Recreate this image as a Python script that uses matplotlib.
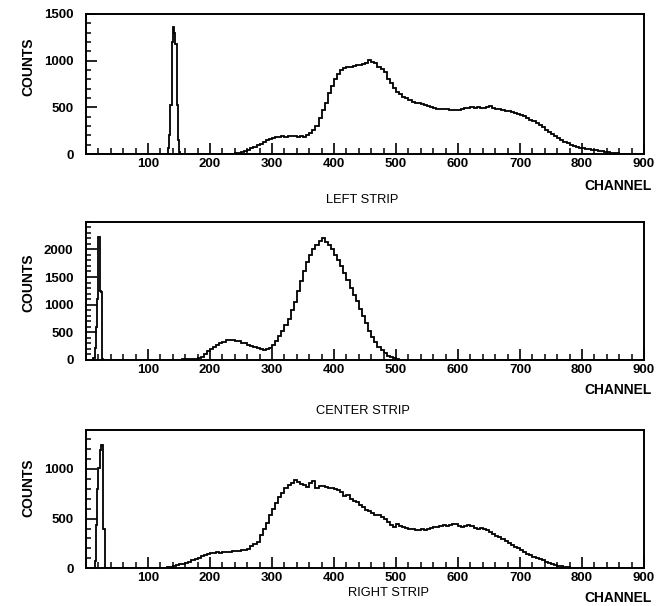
import numpy as np
import matplotlib
matplotlib.use("Agg")
import matplotlib.pyplot as plt
from matplotlib.ticker import MultipleLocator

plt.rcParams['font.family'] = ['Liberation Sans', 'DejaVu Sans']

# ---------------- data (channel bins, counts) ----------------
strip_names = ["LEFT STRIP", "CENTER STRIP", "RIGHT STRIP"]
x_ticks = [100, 200, 300, 400, 500, 600, 700, 800, 900]

# LEFT strip
left_spike_start = 132
left_spike_width = 2
left_spike_counts = [60, 200, 520, 1200, 1360, 1300, 1180, 520, 150, 20]
left_cont_start = 200
left_cont_width = 5
left_cont_counts = [
    5, 5, 5, 5, 5, 5, 5, 5,
    8, 12, 20, 32, 45, 60, 75, 92, 110, 128, 148, 160,
    172, 178, 182, 192, 186, 196, 190, 198, 185, 192,
    178, 200, 228, 262, 300, 390, 470, 545, 650, 730,
    800, 860, 905, 920, 935, 930, 940, 955, 950, 965,
    975, 1010, 985, 975, 935, 915, 880, 800, 760, 710,
    665, 640, 615, 595, 580, 560, 550, 545, 535, 530,
    515, 505, 495, 485, 482, 478, 480, 475, 470, 468,
    472, 480, 488, 495, 508, 490, 505, 495, 488, 500,
    510, 498, 485, 478, 470, 465, 458, 452, 440, 428,
    420, 405, 385, 368, 350, 330, 312, 285, 258, 235,
    210, 192, 170, 150, 133, 115, 100, 88, 76, 68,
    62, 56, 50, 45, 40, 33, 27, 22, 18, 13,
    10, 7, 4, 2,
]
left_ymax = 1500
left_yticks = [0, 500, 1000, 1500]

# CENTER strip
center_spike_start = 12
center_spike_width = 2
center_spike_counts = [30, 210, 600, 1110, 2230, 1240, 1230, 10]
center_cont_start = 100
center_cont_width = 5
center_cont_counts = [
    6, 6, 7, 6, 7, 8, 7, 8, 8, 9, 8, 10, 10, 12, 14,
    20, 40, 60, 100, 160, 200, 240, 270, 300, 330,
    355, 365, 360, 345, 340, 315, 300, 275, 255, 235,
    215, 195, 185, 200, 225, 275, 350, 440, 530, 640,
    740, 900, 1050, 1250, 1420, 1600, 1780, 1900, 2000, 2080,
    2150, 2200, 2140, 2080, 2000, 1900, 1800, 1700, 1580, 1440,
    1310, 1180, 1060, 920, 790, 660, 530, 410, 320, 240,
    175, 120, 80, 50, 30, 12, 5,
]
center_ymax = 2500
center_yticks = [0, 500, 1000, 1500, 2000]

# RIGHT strip
right_spike_start = 14
right_spike_width = 2
right_spike_counts = [70, 440, 800, 1010, 1190, 1240, 1240, 400, 0]
right_cont_start = 100
right_cont_width = 5
right_cont_counts = [
    5, 5, 6, 5, 6, 8,
    12, 18, 25, 32, 40, 48, 58, 68, 80, 92,
    108, 120, 130, 142, 150, 155, 160, 158, 165, 168,
    162, 172, 175, 170, 180, 185, 195, 225, 245, 260,
    330, 400, 460, 540, 600, 660, 720, 760, 810, 840,
    860, 885, 870, 850, 840, 815, 860, 880, 810, 830,
    825, 815, 810, 805, 800, 790, 770, 725, 740, 700,
    680, 665, 640, 620, 590, 575, 555, 540, 535, 520,
    500, 470, 440, 420, 450, 430, 415, 405, 400, 390,
    385, 380, 390, 385, 395, 405, 415, 420, 425, 435,
    430, 440, 450, 445, 430, 415, 430, 440, 425, 410,
    400, 405, 395, 385, 365, 345, 325, 310, 290, 275,
    250, 235, 215, 200, 185, 165, 145, 130, 118, 105,
    92, 80, 68, 58, 45, 36, 28, 20, 15, 10,
    7, 5, 3, 2, 1,
]
right_ymax = 1390
right_yticks = [0, 500, 1000]

panels = [
    (left_spike_start, left_spike_width, left_spike_counts,
     left_cont_start, left_cont_width, left_cont_counts, left_ymax, left_yticks),
    (center_spike_start, center_spike_width, center_spike_counts,
     center_cont_start, center_cont_width, center_cont_counts, center_ymax, center_yticks),
    (right_spike_start, right_spike_width, right_spike_counts,
     right_cont_start, right_cont_width, right_cont_counts, right_ymax, right_yticks),
]


def build(ss, sw, sc, cs, cw, cc):
    se = ss + sw * np.arange(len(sc) + 1)
    ce = cs + cw * np.arange(len(cc) + 1)
    edges = np.concatenate([[0], se, ce, [900]])
    vals = np.concatenate([[0], sc, [0], cc, [0]])
    return edges, vals


# ---------------- layout ----------------
W, H = 662, 606
fig = plt.figure(figsize=(W / 100, H / 100), dpi=100)
fig.patch.set_facecolor('white')

ax_px = [(14, 154), (221.7, 360), (430, 568.3)]
left_px, right_px = 86, 644
counts_y = [0.62, 0.56, 0.58]
channel_y = [-0.229, -0.217, -0.215]
strip_pos = [(0.495, -0.329), (0.497, -0.369), (0.543, -0.179)]

for i, (ss, sw, sc, cs, cw, cc, ymax, yt) in enumerate(panels):
    top, bot = ax_px[i]
    ax = fig.add_axes([left_px / W, 1 - bot / H, (right_px - left_px) / W, (bot - top) / H])
    edges, vals = build(ss, sw, sc, cs, cw, cc)
    ax.stairs(vals, edges, color='black', linewidth=1.3)
    ax.set_xlim(0, 900)
    ax.set_ylim(0, ymax)
    ax.set_xticks(x_ticks)
    ax.xaxis.set_minor_locator(MultipleLocator(20))
    ax.set_yticks(yt)
    ax.yaxis.set_minor_locator(MultipleLocator(100))
    for sp in ax.spines.values():
        sp.set_linewidth(1.4)
    ax.tick_params(axis='x', which='major', direction='in', length=7.7, width=1.2,
                   pad=3, labelsize=9.5)
    ax.tick_params(axis='x', which='minor', direction='in', length=4, width=1.1)
    ax.tick_params(axis='y', which='major', direction='in', length=8, width=1.2,
                   pad=9, labelsize=9.5)
    ax.tick_params(axis='y', which='minor', direction='in', length=3.6, width=1.1)
    for lab in ax.get_xticklabels() + ax.get_yticklabels():
        lab.set_fontweight('bold')
    ax.text(-0.104, counts_y[i], "COUNTS", transform=ax.transAxes, rotation=90,
            ha='center', va='center', fontsize=10, fontweight='bold')
    ax.text(1.014, channel_y[i], "CHANNEL", transform=ax.transAxes,
            ha='right', va='center', fontsize=10, fontweight='bold')
    ax.text(strip_pos[i][0], strip_pos[i][1], strip_names[i], transform=ax.transAxes,
            ha='center', va='center', fontsize=9.3)

fig.savefig("out.png", dpi=100, facecolor='white')
